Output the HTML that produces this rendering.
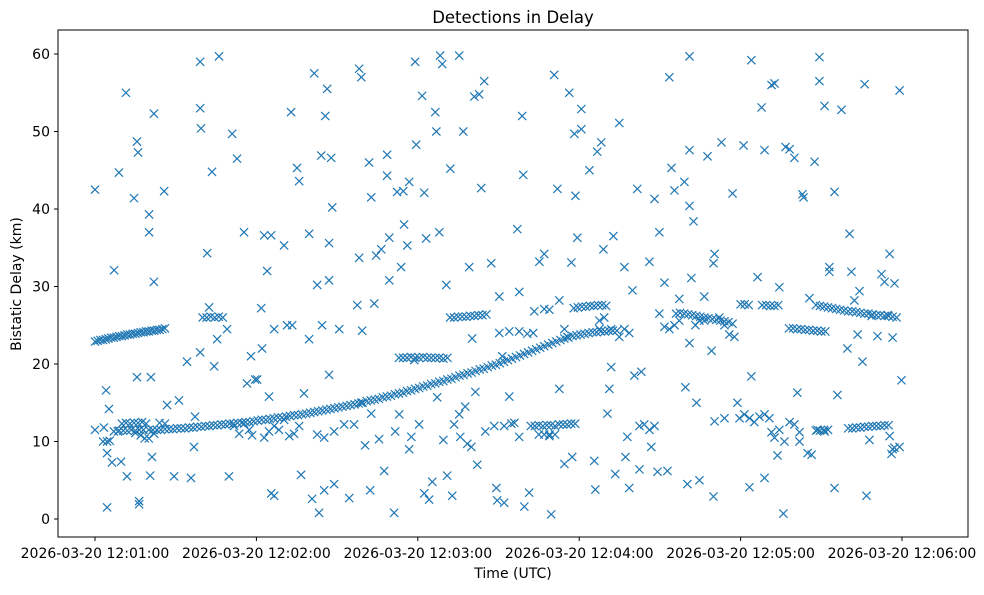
<!DOCTYPE html>
<html><head><meta charset="utf-8"><style>
body{margin:0;background:#fff;font-family:"Liberation Sans","DejaVu Sans",sans-serif}
svg text{font-family:"DejaVu Sans","Liberation Sans",sans-serif;fill:#000}
</style></head><body>
<svg id="chart" width="984" height="590" xmlns="http://www.w3.org/2000/svg">
<rect width="984" height="590" fill="#fff"/>
<text x="513" y="23" font-size="16.5" text-anchor="middle">Detections in Delay</text>
<g id="marks"></g>
<g id="axes"></g>
<rect x="58" y="30" width="910" height="507" fill="none" stroke="#000" stroke-width="1"/>
<text x="513" y="578" font-size="14" text-anchor="middle">Time (UTC)</text>
<text x="21" y="284" font-size="14" text-anchor="middle" transform="rotate(-90 21 284)">Bistatic Delay (km)</text>
</svg>
<script>
// time in seconds after 12:01:00, delay in km
const xTickValues=[0,60,120,180,240,300];
const xTickLabels=["2026-03-20 12:01:00","2026-03-20 12:02:00","2026-03-20 12:03:00","2026-03-20 12:04:00","2026-03-20 12:05:00","2026-03-20 12:06:00"];
const yTickValues=[0,10,20,30,40,50,60];
const trackA=[[0,22.9],[1,23.0],[2,23.1],[3,23.1],[4,23.2],[5,23.3],[6,23.4],[7,23.4],[8,23.5],[9,23.6],[10,23.6],[11,23.7],[12,23.8],[13,23.8],[14,23.9],[15,23.9],[16,24.0],[17,24.1],[18,24.1],[19,24.2],[20,24.2],[21,24.3],[22,24.3],[23,24.4],[24,24.4],[25,24.5],[26,24.6]];
const trackB=[[9,11.4],[10.5,11.4],[12,11.4],[13.5,11.5],[15,11.4],[16.5,11.5],[18,11.5],[20,11.5],[21.5,11.5],[23,11.5],[24.5,11.5],[26,11.6],[27.5,11.6],[29,11.6],[30.5,11.7],[32,11.7],[33.5,11.7],[35,11.8],[36.5,11.8],[38,11.9],[39.5,11.9],[41,12.0],[42.5,12.0],[44,12.1],[45.5,12.1],[47,12.2],[48.5,12.2],[50,12.3],[51.5,12.3],[53,12.4],[54.5,12.4],[56,12.5],[57.5,12.5],[59,12.6],[60.5,12.7],[62,12.8],[63.5,12.8],[65,12.9],[66.5,13.0],[68,13.1],[69.5,13.1],[71,13.2],[72.5,13.3],[74,13.4],[75.5,13.4],[77,13.5],[78.5,13.6],[80,13.7],[81.5,13.8],[83,13.9],[84.5,14.0],[86,14.1],[87.5,14.2],[89,14.3],[90.5,14.4],[92,14.5],[93.5,14.6],[95,14.7],[96.5,14.8],[98,14.9],[99.5,15.0],[101,15.2],[102.5,15.3],[104,15.4],[105.5,15.5],[107,15.7],[108.5,15.8],[110,15.9],[111.5,16.1],[113,16.2],[114.5,16.3],[116,16.5],[117.5,16.6],[119,16.8],[120.5,16.9],[122,17.1],[123.5,17.2],[125,17.4],[126.5,17.5],[128,17.7],[129.5,17.8],[131,18.0],[132.5,18.1],[134,18.3],[135.5,18.5],[137,18.6],[138.5,18.8],[140,18.9],[141.5,19.1],[143,19.3],[144.5,19.4],[146,19.6],[147.5,19.8],[149,19.9],[150.5,20.1],[152,20.3],[153.5,20.5],[155,20.7],[156.5,20.9],[158,21.1],[159.5,21.3],[161,21.5],[162.5,21.7],[164,21.9],[165.5,22.1],[167,22.3],[168.5,22.5],[170,22.7],[171.5,22.9],[173,23.1],[174.5,23.3],[176,23.4],[177.5,23.6],[179,23.7],[180.5,23.8],[182,23.9],[183.5,24.0],[185,24.1],[186.5,24.1],[188,24.2],[189.5,24.2],[191,24.3],[192.5,24.3],[194,24.3]];
const trackC=[[113,20.8],[114.5,20.8],[116,20.8],[117.5,20.9],[119,20.8],[120.5,20.8],[122,20.9],[123.5,20.8],[125,20.8],[126.5,20.8],[128,20.8],[129.5,20.7],[131,20.8]];
const trackD=[[132,26.0],[133.5,26.0],[135,26.1],[136.5,26.1],[138,26.1],[139.5,26.2],[141,26.2],[142.5,26.3],[144,26.3],[145.5,26.4]];
const trackE=[[162,12.0],[163.5,12.0],[165,12.1],[166.5,12.0],[168,12.1],[169.5,12.1],[171,12.0],[172.5,12.2],[174,12.2],[175.5,12.2],[177,12.3],[178.5,12.3],[165,10.9],[167,10.9],[169,10.9],[171,10.9]];
const trackF=[[178,27.2],[179.5,27.3],[181,27.4],[182.5,27.4],[184,27.5],[185.5,27.5],[187,27.6],[188.5,27.6],[190,27.5]];
const trackG=[[216,26.5],[217.5,26.6],[219,26.5],[220.5,26.4],[222,26.3],[223.5,26.2],[225,26.1],[226.5,26.0],[228,25.9],[229.5,25.8],[231,25.7],[232.5,25.6],[234,25.5],[235.5,25.4],[237,25.2]];
const trackH=[[240,27.7],[241.5,27.7],[243,27.6],[248,27.6],[249.5,27.6],[251,27.5],[252.5,27.5],[254,27.6]];
const trackI=[[258,24.6],[259.5,24.6],[261,24.5],[262.5,24.5],[264,24.4],[265.5,24.4],[267,24.3],[268.5,24.3],[270,24.2],[271.5,24.2]];
const trackJ=[[268,27.6],[269.5,27.5],[271,27.4],[272.5,27.3],[274,27.2],[275.5,27.1],[277,27.0],[278.5,26.9],[280,26.8],[281.5,26.8],[283,26.7],[284.5,26.6],[286,26.5],[287.5,26.5],[289,26.4],[290.5,26.3],[292,26.3],[293.5,26.2],[295,26.2],[296.5,26.1],[298,26.0]];
const trackK=[[268,11.4],[269.5,11.4],[271,11.5],[272.5,11.5],[280,11.7],[281.5,11.7],[283,11.8],[284.5,11.8],[286,11.9],[287.5,11.9],[289,12.0],[290.5,12.0],[292,12.0],[293.5,12.1],[295,12.1]];
const trackM=[[40,26.0],[41.5,26.0],[43,26.1],[44.5,26.0],[46,26.1],[47.5,26.0]];
const clusterN=[[3,10.0],[4.5,10.0],[5.5,10.1],[7,11.3],[8.5,11.3],[10,12.3],[11.5,12.4],[13,12.3],[14.5,12.4],[16,12.4],[17.5,12.5],[19,12.3],[15,11.1],[17,10.8],[18.5,10.4],[20,10.4],[22,11.0],[24,12.4],[26,12.3]];
const noise=[[0,42.5],[0,11.5],[3.3,11.8],[4.1,16.6],[4.5,1.5],[5.2,14.2],[4.5,8.5],[6.3,7.3],[7.1,32.1],[8.9,44.7],[9.7,7.4],[11.5,55],[11.9,5.5],[14.5,41.4],[15.6,48.7],[16,47.3],[15.6,18.3],[16.4,2.3],[16.4,1.9],[20.1,39.3],[20.1,37],[20.5,5.6],[20.8,18.3],[21.2,8],[21.9,52.3],[21.9,30.6],[25.7,42.3],[26.8,14.7],[29.4,5.5],[31.2,15.3],[34.2,20.3],[35.7,5.3],[36.8,9.3],[37.2,13.2],[39.1,59],[39.1,53],[39.4,50.4],[39.1,21.5],[41.7,34.3],[42.4,27.3],[43.5,44.8],[44.3,19.7],[46.1,59.7],[45.4,23.2],[49.1,24.5],[49.8,5.5],[51,49.7],[52.8,46.5],[55.4,37],[56.5,17.5],[58,21],[58.4,10.8],[59.5,18],[60.3,18],[61.8,27.2],[62.1,22],[62.9,36.6],[64,32],[64.7,15.8],[65.5,3.3],[66.6,3],[65.5,36.6],[66.6,24.5],[70.3,35.3],[71.4,25],[72.9,52.5],[73.3,25],[75.1,45.3],[75.9,43.6],[76.6,5.7],[77.7,16.2],[79.6,36.8],[79.6,23.2],[80.7,2.6],[81.5,57.5],[82.6,30.2],[83.3,0.8],[84.1,46.9],[84.4,25],[85.2,3.7],[85.6,52],[86.3,55.5],[87,35.6],[87,18.6],[87,30.8],[87.8,46.6],[88.2,40.2],[88.9,4.5],[90.8,24.5],[92.6,12.2],[94.5,2.7],[97.5,27.6],[98.2,58.1],[99,57],[98.2,33.7],[99.3,24.3],[100.4,9.5],[101.9,46],[102.3,3.7],[102.7,41.5],[103.8,27.8],[104.5,34],[105.6,10.3],[106.4,34.8],[107.5,6.2],[108.6,47],[108.6,44.3],[109.4,36.3],[109.4,30.8],[111.2,0.8],[111.6,11.3],[112.3,42.2],[113.8,32.5],[114.6,42.3],[114.9,38],[116.1,35.3],[116.8,43.5],[116.8,9],[118.7,20.5],[119,59],[119.4,48.3],[120.5,12.2],[121.6,54.6],[122.4,42.1],[122.4,3.3],[123.1,36.2],[124.2,2.5],[125.4,4.8],[126.5,52.5],[126.9,50],[127.2,15.7],[128,37],[128.3,59.8],[129.1,58.7],[129.5,10.2],[130.6,30.2],[130.9,5.6],[132.1,45.2],[132.8,3],[135.4,59.8],[135.8,10.6],[136.9,50],[137.6,14.5],[138.4,9.7],[139.1,32.5],[139.9,9.3],[140.2,23.3],[141,54.5],[141.4,16.4],[142.1,7],[142.8,54.8],[143.6,42.7],[144.7,56.5],[145.1,11.3],[147.3,33],[149.2,4],[149.5,2.4],[150.3,28.7],[151.4,21],[152.1,2.1],[154,15.8],[155.9,12.4],[157,37.4],[157.7,29.3],[158.8,52],[159.2,44.4],[159.6,1.6],[160.7,23.9],[161.4,3.4],[162.9,24],[165.2,33.2],[167,34.2],[168.9,10.7],[169.6,0.6],[170.7,57.3],[171.9,42.6],[172.6,16.8],[174.5,7.1],[176.3,55],[177.1,33.1],[177.4,8],[178.2,49.7],[178.6,41.7],[179.3,36.3],[180.8,52.9],[180.8,50.3],[183.8,45],[185.6,7.5],[186,3.8],[186.7,47.4],[187.5,25.6],[188.2,48.6],[189,34.8],[190.5,13.6],[191.2,16.8],[191.9,19.6],[192.7,36.5],[193.4,5.8],[194.9,51.1],[196.8,32.5],[197.2,8],[197.9,10.6],[198.6,4],[199.8,29.5],[200.5,18.5],[201.6,42.6],[202.4,6.4],[203.1,19],[206.1,33.2],[206.8,9.3],[208,41.3],[209.1,6.1],[209.8,37],[211.7,30.5],[212.8,6.2],[213.5,57],[214.3,45.3],[215.4,42.4],[217.2,28.4],[219.1,43.5],[219.5,17],[220.2,4.5],[221,59.7],[221,47.6],[221.7,31.1],[221,40.4],[222.5,38.4],[223.6,15],[224.7,5],[226.5,28.7],[227.7,46.8],[229.2,21.7],[229.9,33],[230.3,34.2],[229.9,2.9],[232.9,48.6],[234,13],[237,42],[238.8,15],[239.6,13],[241.1,48.2],[243.3,4.1],[244,59.2],[244,18.4],[246.3,31.2],[247.8,53.1],[248.9,47.6],[248.9,5.3],[251.5,56],[252.6,56.2],[253.7,8.2],[254.4,29.9],[255.9,0.7],[256.7,48],[258.2,47.7],[260,46.6],[261.1,16.3],[261.9,10],[263,41.9],[263.4,41.5],[265.6,28.5],[267.5,46.1],[269.3,59.6],[269.3,56.5],[271.2,53.3],[273,32.5],[273,31.9],[274.9,42.2],[274.9,4],[276,16],[277.5,52.8],[279.7,22],[280.5,36.8],[281.2,31.9],[282.3,28.2],[283.5,23.8],[284.2,29.4],[285.3,20.3],[286.1,56.1],[286.8,3],[287.9,10.2],[288.7,26.2],[290.9,23.6],[292.4,31.6],[293.5,30.6],[294.6,26.3],[295.4,34.2],[296.1,8.4],[296.5,23.4],[297.2,30.4],[299.1,55.3],[299.8,17.9],[297.2,9.2],[299.1,9.3],[295.4,10.7],[296.5,9],
[62.9,10.5],[64.7,11.3],[66.6,12],[68.4,11.5],[70.3,12.8],[72.2,10.7],[74,11],[75.9,12],[82.6,10.9],[85.2,10.5],[88.9,11.3],[96.3,12.2],[99,15],[102.7,13.6],[113.1,13.5],[117.6,10.6],[133.5,12.2],[135.4,13.5],[148.4,12],[152.1,12],[154.8,12.3],[157.7,10.6],[150.3,24],[154,24.2],[157.7,24.2],[163.3,26.8],[167,27.1],[168.9,27],[172.6,28.2],[174.5,24.5],[175.6,23.5],[187.5,24.5],[189.3,26],[191.9,24.5],[194.9,23.5],[196.8,24.5],[198.6,24],[202.4,12],[204.2,12.2],[206.1,11.5],[208,12],[209.8,26.5],[211.7,24.8],[213.5,24.5],[215.4,25],[217.2,25.6],[221,22.7],[223.2,25],[224.7,25.6],[226.5,25.6],[230.3,12.6],[232.1,26],[234,25],[235.8,23.8],[237.7,23.5],[241.4,13.5],[243.3,13],[245.1,12.5],[247,13.2],[248.9,13.5],[250.7,13],[251.5,11.2],[252.6,10.5],[254.4,11.5],[256.3,10],[258.2,12.5],[260,12.2],[261.9,11.2],[264.9,8.5],[266.4,8.3],[268.6,11.5],[271.2,11.3],[53.6,11],[55.4,12.3],[57.3,11.5],[51.7,12]];
const allSeries=[trackA,trackB,trackC,trackD,trackE,trackF,trackG,trackH,trackI,trackJ,trackK,trackM,clusterN,noise];

const NS="http://www.w3.org/2000/svg";
function xScale(t){return 95+t*2.69;}
function yScale(d){return 519-d*7.75;}
const marks=document.getElementById('marks');
allSeries.forEach(function(series){
  series.forEach(function(p){
    const x=xScale(p[0]),y=yScale(p[1]),s=4.1;
    const path=document.createElementNS(NS,'path');
    path.setAttribute('d','M'+(x-s)+' '+(y-s)+'L'+(x+s)+' '+(y+s)+'M'+(x-s)+' '+(y+s)+'L'+(x+s)+' '+(y-s));
    path.setAttribute('stroke','#1f77b4');
    path.setAttribute('stroke-width','1.2');
    
    
    marks.appendChild(path);
  });
});
const axes=document.getElementById('axes');
xTickValues.forEach(function(v,i){
  const x=xScale(v);
  const l=document.createElementNS(NS,'line');
  l.setAttribute('x1',x);l.setAttribute('x2',x);l.setAttribute('y1',537);l.setAttribute('y2',541);
  l.setAttribute('stroke','#000');
  
  
  axes.appendChild(l);
  const t=document.createElementNS(NS,'text');
  t.setAttribute('x',x);t.setAttribute('y',558);t.setAttribute('font-size','14');t.setAttribute('text-anchor','middle');
  t.textContent=xTickLabels[i];
  
  
  axes.appendChild(t);
});
yTickValues.forEach(function(v){
  const y=yScale(v);
  const l=document.createElementNS(NS,'line');
  l.setAttribute('x1',54);l.setAttribute('x2',58);l.setAttribute('y1',y);l.setAttribute('y2',y);
  l.setAttribute('stroke','#000');
  
  
  axes.appendChild(l);
  const t=document.createElementNS(NS,'text');
  t.setAttribute('x',50);t.setAttribute('y',y+5);t.setAttribute('font-size','14');t.setAttribute('text-anchor','end');
  t.textContent=String(v);
  
  
  axes.appendChild(t);
});
</script>
</body></html>
